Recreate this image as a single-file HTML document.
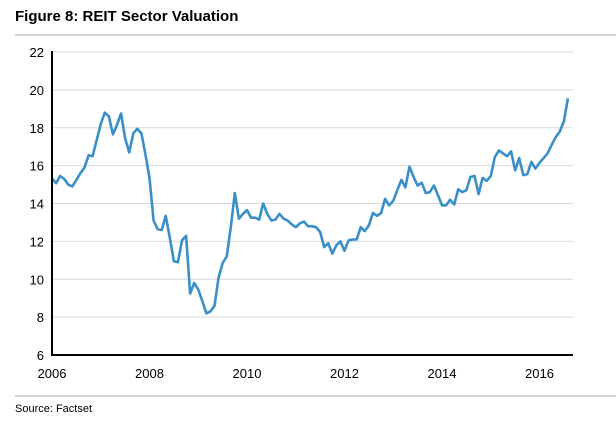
<!DOCTYPE html>
<html><head><meta charset="utf-8"><style>
body{margin:0;background:#fff;width:616px;height:421px;overflow:hidden;font-family:"Liberation Sans",sans-serif}
</style></head><body>
<svg width="616" height="421">
<text x="15" y="21" font-size="15" font-weight="bold" fill="#000">Figure 8: REIT Sector Valuation</text>
<rect x="15" y="34" width="601" height="2" fill="#d4d4d4"/>
<g id="grid"></g><g id="yt"></g><g id="xt"></g>
<path id="ln" fill="none" stroke="#3a8fc8" stroke-width="2.6" stroke-linejoin="round"/>
<line x1="52" y1="51" x2="52" y2="356" stroke="#000" stroke-width="2"/>
<line x1="51" y1="355" x2="573" y2="355" stroke="#000" stroke-width="2"/>
<rect x="15" y="395" width="601" height="2" fill="#d4d4d4"/>
<text x="15" y="412" font-size="11" fill="#000">Source: Factset</text>
</svg>
<script>
const yTicks=[6,8,10,12,14,16,18,20,22];
const xTicks=[2006,2008,2010,2012,2014,2016];
const startYear=2006;
const values=[15.33,15.07,15.45,15.3,15.0,14.9,15.25,15.6,15.9,16.55,16.5,17.35,18.2,18.8,18.6,17.65,18.15,18.75,17.45,16.7,17.7,17.95,17.7,16.6,15.35,13.1,12.65,12.6,13.35,12.2,10.95,10.9,12.05,12.3,9.25,9.8,9.45,8.85,8.2,8.3,8.6,10.1,10.85,11.2,12.75,14.55,13.2,13.45,13.65,13.25,13.25,13.15,14.0,13.45,13.1,13.15,13.45,13.2,13.1,12.9,12.75,12.95,13.05,12.8,12.8,12.75,12.5,11.7,11.9,11.35,11.8,12.0,11.5,12.05,12.1,12.1,12.75,12.55,12.85,13.5,13.35,13.5,14.25,13.9,14.15,14.7,15.25,14.85,15.95,15.4,14.95,15.1,14.55,14.6,14.95,14.45,13.9,13.9,14.2,13.95,14.75,14.6,14.7,15.4,15.45,14.5,15.35,15.2,15.45,16.45,16.8,16.65,16.5,16.75,15.75,16.4,15.5,15.55,16.2,15.85,16.15,16.4,16.65,17.1,17.5,17.8,18.35,19.55];
const X=t=>52+(t-2006)*48.75;
const Y=v=>355-(v-6)*(303/16);
const NS="http://www.w3.org/2000/svg";
const g=document.getElementById('grid'),yt=document.getElementById('yt'),xt=document.getElementById('xt');
yTicks.forEach(v=>{
 if(v>6){const l=document.createElementNS(NS,'line');
 l.setAttribute('x1',52);l.setAttribute('x2',573);l.setAttribute('y1',Y(v));l.setAttribute('y2',Y(v));
 l.setAttribute('stroke','#d9d9d9');l.setAttribute('stroke-width','1');
 
 
 g.appendChild(l);}
 const t=document.createElementNS(NS,'text');
 t.setAttribute('x',44);t.setAttribute('y',Y(v)+5);t.setAttribute('text-anchor','end');t.setAttribute('font-size','13');
 t.textContent=v;
 
 
 yt.appendChild(t);
});
xTicks.forEach(v=>{
 const t=document.createElementNS(NS,'text');
 t.setAttribute('x',X(v));t.setAttribute('y',378);t.setAttribute('text-anchor','middle');t.setAttribute('font-size','13');
 t.textContent=v;
 
 
 xt.appendChild(t);
});
document.getElementById('ln').setAttribute('d',values.map((v,i)=>(i?'L':'M')+X(startYear+i/12).toFixed(1)+' '+Y(v).toFixed(1)).join(''));
</script>
</body></html>
